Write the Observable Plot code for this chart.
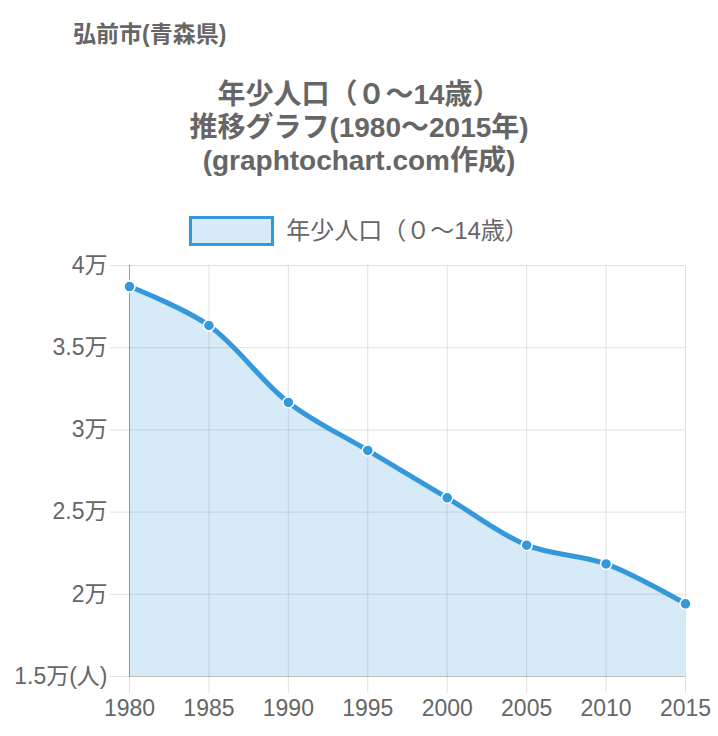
<!DOCTYPE html>
<html>
<head>
<meta charset="utf-8">
<script src="https://cdn.jsdelivr.net/npm/d3@7"></script>
<script src="https://cdn.jsdelivr.net/npm/@observablehq/plot@0.6"></script>
<style>
  html, body { margin: 0; padding: 0; background: #fff; }
  #root { position: relative; width: 718px; height: 736px; overflow: hidden;
          font-family: "Liberation Sans", Arial, "Noto Sans CJK JP", sans-serif; color: #666; }
  .abs { position: absolute; white-space: nowrap; }
  #place { left: 73px; top: 19px; font-size: 23px; font-weight: bold; line-height: 30px; }
  #title { left: 0; width: 718px; top: 78px; text-align: center; font-size: 28px; font-weight: bold; line-height: 33px; }
  #legend { left: 0; width: 718px; top: 216px; display: flex; justify-content: center; align-items: center; }
  #legend .box { width: 79px; height: 24px; border: 3px solid #3498db; background: rgba(52,152,219,0.2); margin-right: 12px; }
  #legend .lab { font-size: 24px; line-height: 30px; }
  #chart { left: 0; top: 240px; }
</style>
</head>
<body>
<div id="root">
  <div id="place" class="abs"></div>
  <div id="title" class="abs"></div>
  <div id="legend" class="abs"><div class="box"></div><div class="lab"></div></div>
  <div id="chart" class="abs"></div>
</div>
<script>
const placeName = "弘前市(青森県)";
const titleLines = ["年少人口（０～14歳）", "推移グラフ(1980～2015年)", "(graphtochart.com作成)"];
const seriesName = "年少人口（０～14歳）";
const years = [1980, 1985, 1990, 1995, 2000, 2005, 2010, 2015];
const values = [38720, 36350, 31670, 28750, 25870, 22990, 21850, 19420];
const yTicks = [15000, 20000, 25000, 30000, 35000, 40000];
const yTickLabels = ["1.5万(人)", "2万", "2.5万", "3万", "3.5万", "4万"];

document.getElementById("place").textContent = placeName;
document.getElementById("title").innerHTML = titleLines.map(s => `<div>${s}</div>`).join("");
document.querySelector("#legend .lab").textContent = seriesName;

const data = years.map((y, i) => ({year: y, value: values[i]}));
const base = yTicks[0];
const curve = "catmull-rom";
const blue = "#3498db";

const chart = Plot.plot({
  width: 718,
  height: 496,
  marginTop: 25,
  marginBottom: 60,
  marginLeft: 129,
  marginRight: 33,
  style: {fontFamily: '"Liberation Sans", Arial, "Noto Sans CJK JP", sans-serif', fontSize: "23px", color: "#666", background: "transparent", overflow: "visible"},
  x: {domain: [1980, 2015], ticks: years, tickFormat: d => String(d)},
  y: {domain: [15000, 40000], ticks: yTicks, tickFormat: d => yTickLabels[yTicks.indexOf(d)]},
  marks: [
    Plot.gridX(years, {stroke: "#000", strokeOpacity: 0.12}),
    Plot.gridY(yTicks, {stroke: "#000", strokeOpacity: 0.12}),
    Plot.axisX({ticks: years, tickFormat: d => String(d), tickSize: 17, tickPadding: 6, stroke: "#000", strokeOpacity: 0.12, fill: "#666", fontSize: 23, label: null}),
    Plot.axisY({ticks: yTicks, tickFormat: d => yTickLabels[yTicks.indexOf(d)], tickSize: 19, tickPadding: 3, stroke: "#000", strokeOpacity: 0.12, fill: "#666", fontSize: 23, label: null}),
    Plot.ruleX([1980], {stroke: "#000", strokeOpacity: 0.3}),
    Plot.ruleY([base], {stroke: "#000", strokeOpacity: 0.15}),
    Plot.areaY(data, {x: "year", y1: d => base, y2: "value", curve, fill: blue, fillOpacity: 0.2}),
    Plot.line(data, {x: "year", y: "value", curve, stroke: blue, strokeWidth: 5}),
    Plot.dot(data, {x: "year", y: "value", r: 5.5, fill: blue, stroke: "white", strokeWidth: 1.5})
  ]
});
document.getElementById("chart").appendChild(chart);
</script>
</body>
</html>
